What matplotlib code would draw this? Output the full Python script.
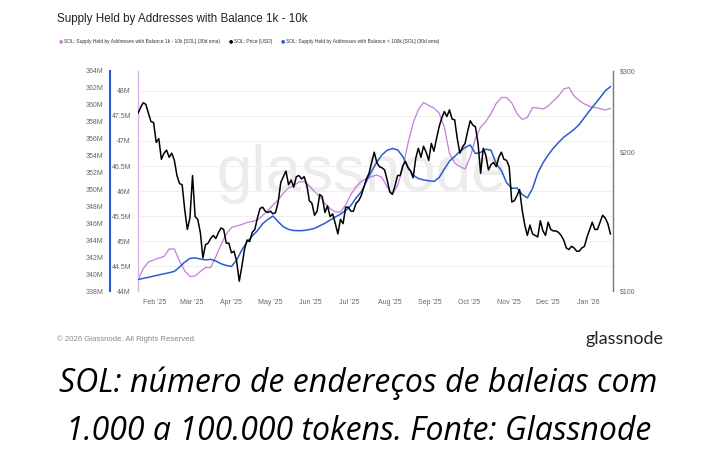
import matplotlib
matplotlib.use("Agg")
import matplotlib.pyplot as plt
import pandas as pd
from matplotlib.ticker import FuncFormatter, NullLocator

# SOL price (USD), one reading every 2 days from 2025-01-19
price_dates = pd.date_range("2025-01-19", periods=183, freq="2D")
price_usd = [
    243, 250, 256, 254, 243, 233, 232, 210, 214, 193,
    199, 202, 195, 199, 192, 178, 171, 170, 150, 136,
    144, 178, 145, 143, 134, 118, 126, 127, 130, 132,
    130, 134, 137, 136, 127, 127, 121, 122, 116, 105,
    113, 123, 129, 128, 134, 136, 144, 151, 152, 149,
    148, 149, 147, 148, 156, 172, 177, 182, 170, 174,
    168, 177, 178, 175, 177, 170, 157, 155, 146, 149,
    162, 160, 148, 153, 145, 147, 140, 133, 143, 140,
    152, 152, 149, 149, 155, 157, 161, 168, 175, 180,
    190, 200, 190, 186, 185, 183, 174, 164, 162, 169,
    178, 178, 187, 191, 185, 182, 176, 194, 204, 195,
    206, 200, 192, 209, 201, 214, 227, 237, 245, 239,
    247, 236, 235, 214, 199, 205, 209, 222, 234, 229,
    227, 209, 180, 204, 197, 183, 188, 190, 186, 195,
    200, 193, 192, 186, 156, 157, 161, 166, 150, 139,
    132, 139, 133, 132, 131, 142, 135, 132, 141, 136,
    135, 135, 134, 132, 129, 124, 123, 125, 124, 122,
    122, 124, 125, 131, 136, 141, 136, 136, 141, 146,
    144, 140, 133,
]

# supply series (millions of SOL, 30d ema), one reading every 4 days
supply_dates = pd.date_range("2025-01-19", periods=92, freq="4D")
supply_1k_10k = [
    44.22, 44.45, 44.58, 44.62, 44.66, 44.69, 44.84, 44.84, 44.60, 44.40,
    44.29, 44.30, 44.39, 44.47, 44.47, 44.69, 44.93, 45.14, 45.27, 45.30,
    45.33, 45.37, 45.39, 45.42, 45.51, 45.61, 45.72, 45.82, 45.96, 46.06,
    46.11, 46.18, 46.19, 46.10, 45.99, 45.89, 45.75, 45.65, 45.58, 45.58,
    45.72, 45.93, 46.08, 46.19, 46.25, 46.29, 46.32, 46.27, 46.08, 45.94,
    46.11, 46.45, 46.95, 47.36, 47.63, 47.77, 47.71, 47.66, 47.56, 47.28,
    46.75, 46.56, 46.49, 46.44, 46.68, 47.05, 47.28, 47.39, 47.55, 47.75,
    47.87, 47.87, 47.76, 47.55, 47.43, 47.47, 47.67, 47.66, 47.64, 47.70,
    47.80, 47.90, 48.04, 48.07, 47.90, 47.81, 47.74, 47.69, 47.67, 47.65,
    47.62, 47.65,
]
supply_100k = [
    339.35, 339.50, 339.62, 339.76, 339.90, 340.03, 340.16, 340.32, 340.83, 341.42,
    341.85, 341.92, 341.78, 341.68, 341.74, 341.54, 341.22, 341.02, 340.90, 341.66,
    342.85, 343.80, 344.50, 345.13, 345.95, 346.46, 346.85, 346.19, 345.58, 345.28,
    345.15, 345.13, 345.15, 345.26, 345.40, 345.70, 346.01, 346.38, 346.75, 347.09,
    347.50, 348.12, 348.99, 349.72, 350.95, 352.16, 353.24, 354.10, 354.63, 354.84,
    354.68, 353.89, 352.67, 351.68, 351.29, 351.13, 351.03, 350.95, 351.40, 352.40,
    353.34, 353.90, 354.50, 354.95, 355.26, 354.24, 354.38, 354.76, 354.64, 353.06,
    352.22, 350.80, 350.14, 350.18, 349.41, 349.00, 350.11, 351.94, 353.13, 354.07,
    354.87, 355.55, 356.17, 356.63, 357.09, 357.69, 358.51, 359.31, 360.08, 360.84,
    361.65, 362.15,
]

month_ticks = pd.date_range("2025-02-01", "2026-01-01", freq="MS")
month_labels = [d.strftime("%b '%y") for d in month_ticks]
pink_ticks = [44, 44.5, 45, 45.5, 46, 46.5, 47, 47.5, 48]
blue_ticks = list(range(338, 366, 2))
price_ticks = [100, 200, 300]

pink = "#c57ddc"
blue = "#2a5bd0"
label_grey = "#666666"

plt.rcParams["font.family"] = ["Liberation Sans", "DejaVu Sans"]

fig = plt.figure(figsize=(7.2, 4.58), dpi=100)
ax = fig.add_axes([0.1917, 0.3646, 0.6597, 0.4804])

# pink series on the inner left axis
ax.plot(supply_dates, supply_1k_10k, color=pink, lw=0.9)
ax.set_ylim(44, 48.4)
ax.set_yticks(pink_ticks)
ax.yaxis.set_major_formatter(FuncFormatter(lambda v, p: f"{v:g}M"))
ax.grid(axis="y", color="#ececec", lw=0.6)
ax.set_axisbelow(True)
for s in ["top", "right", "bottom"]:
    ax.spines[s].set_visible(False)
ax.spines["left"].set_color("#ddb3ee")
ax.spines["left"].set_linewidth(1.0)
ax.tick_params(axis="y", length=0, pad=5, labelsize=5, labelcolor=label_grey)
ax.set_xlim(pd.Timestamp("2025-01-19"), pd.Timestamp("2026-01-20"))
ax.set_xticks(month_ticks)
ax.set_xticklabels(month_labels)
ax.tick_params(axis="x", length=0, pad=6, labelsize=5, labelcolor=label_grey)

# watermark
ax.text(0.47, 0.53, "glassnode", transform=ax.transAxes, fontsize=46,
        color="#ececec", ha="center", va="center", zorder=0)

# blue series on the outer left axis
ax_blue = ax.twinx()
ax_blue.plot(supply_dates, supply_100k, color=blue, lw=1.1)
ax_blue.set_ylim(338, 364)
ax_blue.set_yticks(blue_ticks)
ax_blue.yaxis.set_major_formatter(FuncFormatter(lambda v, p: f"{v:g}M"))
ax_blue.yaxis.set_ticks_position("left")
ax_blue.spines["left"].set_position(("outward", 20))
ax_blue.spines["left"].set_visible(True)
ax_blue.spines["left"].set_color(blue)
ax_blue.spines["left"].set_linewidth(1.5)
for s in ["top", "right", "bottom"]:
    ax_blue.spines[s].set_visible(False)
ax_blue.tick_params(axis="y", length=0, pad=5, labelsize=5, labelcolor=label_grey)

# price on the right, log scale
ax_price = ax.twinx()
ax_price.plot(price_dates, price_usd, color="black", lw=1.1)
ax_price.set_yscale("log")
ax_price.set_ylim(100, 300)
ax_price.set_yticks(price_ticks)
ax_price.yaxis.set_minor_locator(NullLocator())
ax_price.yaxis.set_major_formatter(FuncFormatter(lambda v, p: f"${v:g}"))
for s in ["top", "left", "bottom"]:
    ax_price.spines[s].set_visible(False)
ax_price.spines["right"].set_color("#777777")
ax_price.spines["right"].set_linewidth(1.0)
ax_price.tick_params(axis="y", length=0, pad=5, labelsize=5, labelcolor=label_grey)

# title and legend
fig.text(57 / 720, 1 - 19 / 458, "Supply Held by Addresses with Balance 1k - 10k",
         fontsize=8.4, color="#222222", va="center")
legend_items = [
    (59, pink, "SOL: Supply Held by Addresses with Balance 1k - 10k [SOL] (30d ema)"),
    (229, "black", "SOL: Price [USD]"),
    (281, blue, "SOL: Supply Held by Addresses with Balance > 100k [SOL] (30d ema)"),
]
for x0, c, txt in legend_items:
    fig.text(x0 / 720, 1 - 41 / 458, "\u25cf", color=c, fontsize=3.5, va="center",
             family="DejaVu Sans")
    fig.text((x0 + 4.5) / 720, 1 - 41 / 458, txt, color="#333333", fontsize=3.5,
             va="center")

# footer
fig.text(57 / 720, 1 - 339 / 458, "\u00a9 2026 Glassnode. All Rights Reserved.",
         fontsize=5.6, color="#888888", va="center")
fig.text(663 / 720, 1 - 339 / 458, "glassnode", fontsize=13, color="#222222",
         ha="right", va="center", family=["Lato", "DejaVu Sans"])

# caption
fig.text(358.5 / 720, 1 - 392 / 458, "SOL: número de endereços de baleias com",
         fontsize=23, style="italic", ha="center", va="baseline",
         family=["Open Sans", "DejaVu Sans"])
fig.text(358.5 / 720, 1 - 440 / 458, "1.000 a 100.000 tokens. Fonte: Glassnode",
         fontsize=23, style="italic", ha="center", va="baseline",
         family=["Open Sans", "DejaVu Sans"])

fig.savefig("out.png", dpi=100, facecolor="white")
